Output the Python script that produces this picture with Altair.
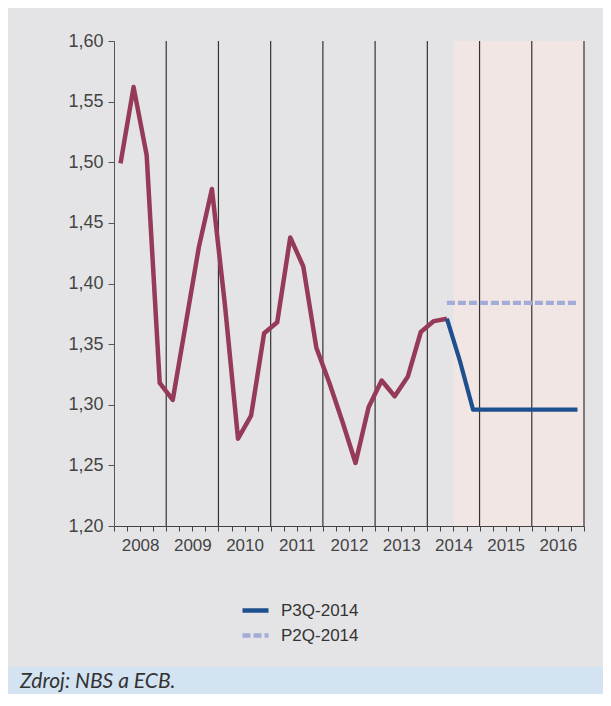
import altair as alt
import pandas as pd

# ---------------- data ----------------
hist_periods = [f"{y}Q{q}" for y in range(2008, 2015) for q in range(1, 5)][:26]
hist_values = [1.499, 1.562, 1.506, 1.318,
               1.304, 1.367, 1.430, 1.478,
               1.382, 1.272, 1.291, 1.359,
               1.368, 1.438, 1.414, 1.347,
               1.318, 1.286, 1.252, 1.298,
               1.320, 1.307, 1.323, 1.360,
               1.369, 1.371]

fc_periods = ["2014Q2", "2014Q3", "2014Q4",
              "2015Q1", "2015Q2", "2015Q3", "2015Q4",
              "2016Q1", "2016Q2", "2016Q3", "2016Q4"]
p3q_values = [1.371, 1.336, 1.296, 1.296, 1.296, 1.296, 1.296, 1.296, 1.296, 1.296, 1.296]
p2q_values = [1.384, 1.384, 1.384, 1.384, 1.384, 1.384, 1.384, 1.384, 1.384, 1.384, 1.384]

series_names = ["P3Q-2014", "P2Q-2014"]
forecast_start = 2014.5
forecast_end = 2017.0
year_lines = [2009, 2010, 2011, 2012, 2013, 2014, 2015, 2016, 2017]
y_ticks = [1.20, 1.25, 1.30, 1.35, 1.40, 1.45, 1.50, 1.55, 1.60]
x_ticks = [2008 + i / 4 for i in range(37)]
source_text = "Zdroj: NBS a ECB."

# ---------------- styles ----------------
BG = "#e4e4e6"
BAND = "#f2e6e4"
FOOT = "#d3e3f1"
MAROON = "#963a5a"
BLUE = "#1e4f8f"
PERI = "#a2acd8"
W, H = 470, 485
PAD_L, PAD_T = 106, 33
TOTAL_W, TOTAL_H = 595, 686
FONT = "Liberation Sans"


def tpos(p):
    return int(p[:4]) + (int(p[5]) - 0.5) / 4


hist_df = pd.DataFrame({"t": [tpos(p) for p in hist_periods], "v": hist_values})
fc_df = pd.DataFrame({
    "t": [tpos(p) for p in fc_periods] * 2,
    "v": p3q_values + p2q_values,
    "series": [series_names[0]] * len(fc_periods) + [series_names[1]] * len(fc_periods),
})
band_df = pd.DataFrame({"start": [forecast_start], "end": [forecast_end]})
lines_df = pd.DataFrame({"yr": year_lines})
foot_df = pd.DataFrame({"label": [source_text]})

xscale = alt.Scale(domain=[2008, 2017], nice=False, zero=False)
yscale = alt.Scale(domain=[1.2, 1.6], nice=False, zero=False)
xaxis = alt.Axis(
    values=x_ticks, title=None, grid=False,
    labelExpr="datum.value % 1 == 0.5 ? toString(floor(datum.value)) : ''",
    tickSize=5, labelFontSize=17, labelPadding=6, labelColor="#444",
    labelFont=FONT, labelOverlap=False, labelFlush=False,
    domainColor="#444", tickColor="#444", labelAngle=0,
)
yaxis = alt.Axis(
    values=y_ticks, title=None, grid=False,
    labelExpr="replace(format(datum.value, '.2f'), '.', ',')",
    tickSize=6, labelFontSize=18, labelPadding=5, labelColor="#444",
    labelFont=FONT, domainColor="#555", tickColor="#555",
)

band = alt.Chart(band_df).mark_rect(color=BAND).encode(
    x=alt.X("start:Q", scale=xscale, axis=xaxis), x2="end:Q"
)

rules = alt.Chart(lines_df).mark_rule(color="#333333", strokeWidth=1.2).encode(
    x=alt.X("yr:Q", scale=xscale, axis=xaxis)
)

hist = alt.Chart(hist_df).mark_line(color=MAROON, strokeWidth=4.5, strokeJoin="round").encode(
    x=alt.X("t:Q", scale=xscale, axis=xaxis),
    y=alt.Y("v:Q", scale=yscale, axis=yaxis),
)

leg = alt.Legend(
    title=None, orient="none", legendX=126, legendY=554,
    symbolType="stroke", symbolSize=676, symbolStrokeWidth=4.5,
    labelFontSize=17, labelFont=FONT, labelColor="#333",
    rowPadding=0, labelOffset=10, padding=0,
)

fc = alt.Chart(fc_df).mark_line(strokeWidth=4.2, strokeJoin="round").encode(
    x=alt.X("t:Q", scale=xscale, axis=xaxis),
    y=alt.Y("v:Q", scale=yscale, axis=yaxis),
    color=alt.Color("series:N", scale=alt.Scale(domain=series_names, range=[BLUE, PERI]), legend=leg),
    strokeDash=alt.StrokeDash("series:N", scale=alt.Scale(domain=series_names, range=[[1, 0], [8, 3]]), legend=leg),
    order=alt.Order("t:Q"),
)

foot_rect = alt.Chart(foot_df).mark_rect(color=FOOT).encode(
    x=alt.value(-PAD_L), x2=alt.value(TOTAL_W - PAD_L),
    y=alt.value(626), y2=alt.value(TOTAL_H - PAD_T),
)
foot_text = alt.Chart(foot_df).mark_text(
    align="left", baseline="alphabetic", font="Lato", fontStyle="italic",
    fontSize=21, color="#333"
).encode(x=alt.value(-94), y=alt.value(647), text="label:N")

chart = alt.layer(band, rules, hist, fc, foot_rect, foot_text).properties(
    width=W, height=H,
    autosize=alt.AutoSizeParams(type="none"),
    padding={"left": PAD_L, "top": PAD_T, "right": TOTAL_W - PAD_L - W, "bottom": TOTAL_H - PAD_T - H},
    background=BG,
).configure_view(strokeWidth=0)

chart.save("out.html", embed_options={"renderer": "svg", "actions": False})
